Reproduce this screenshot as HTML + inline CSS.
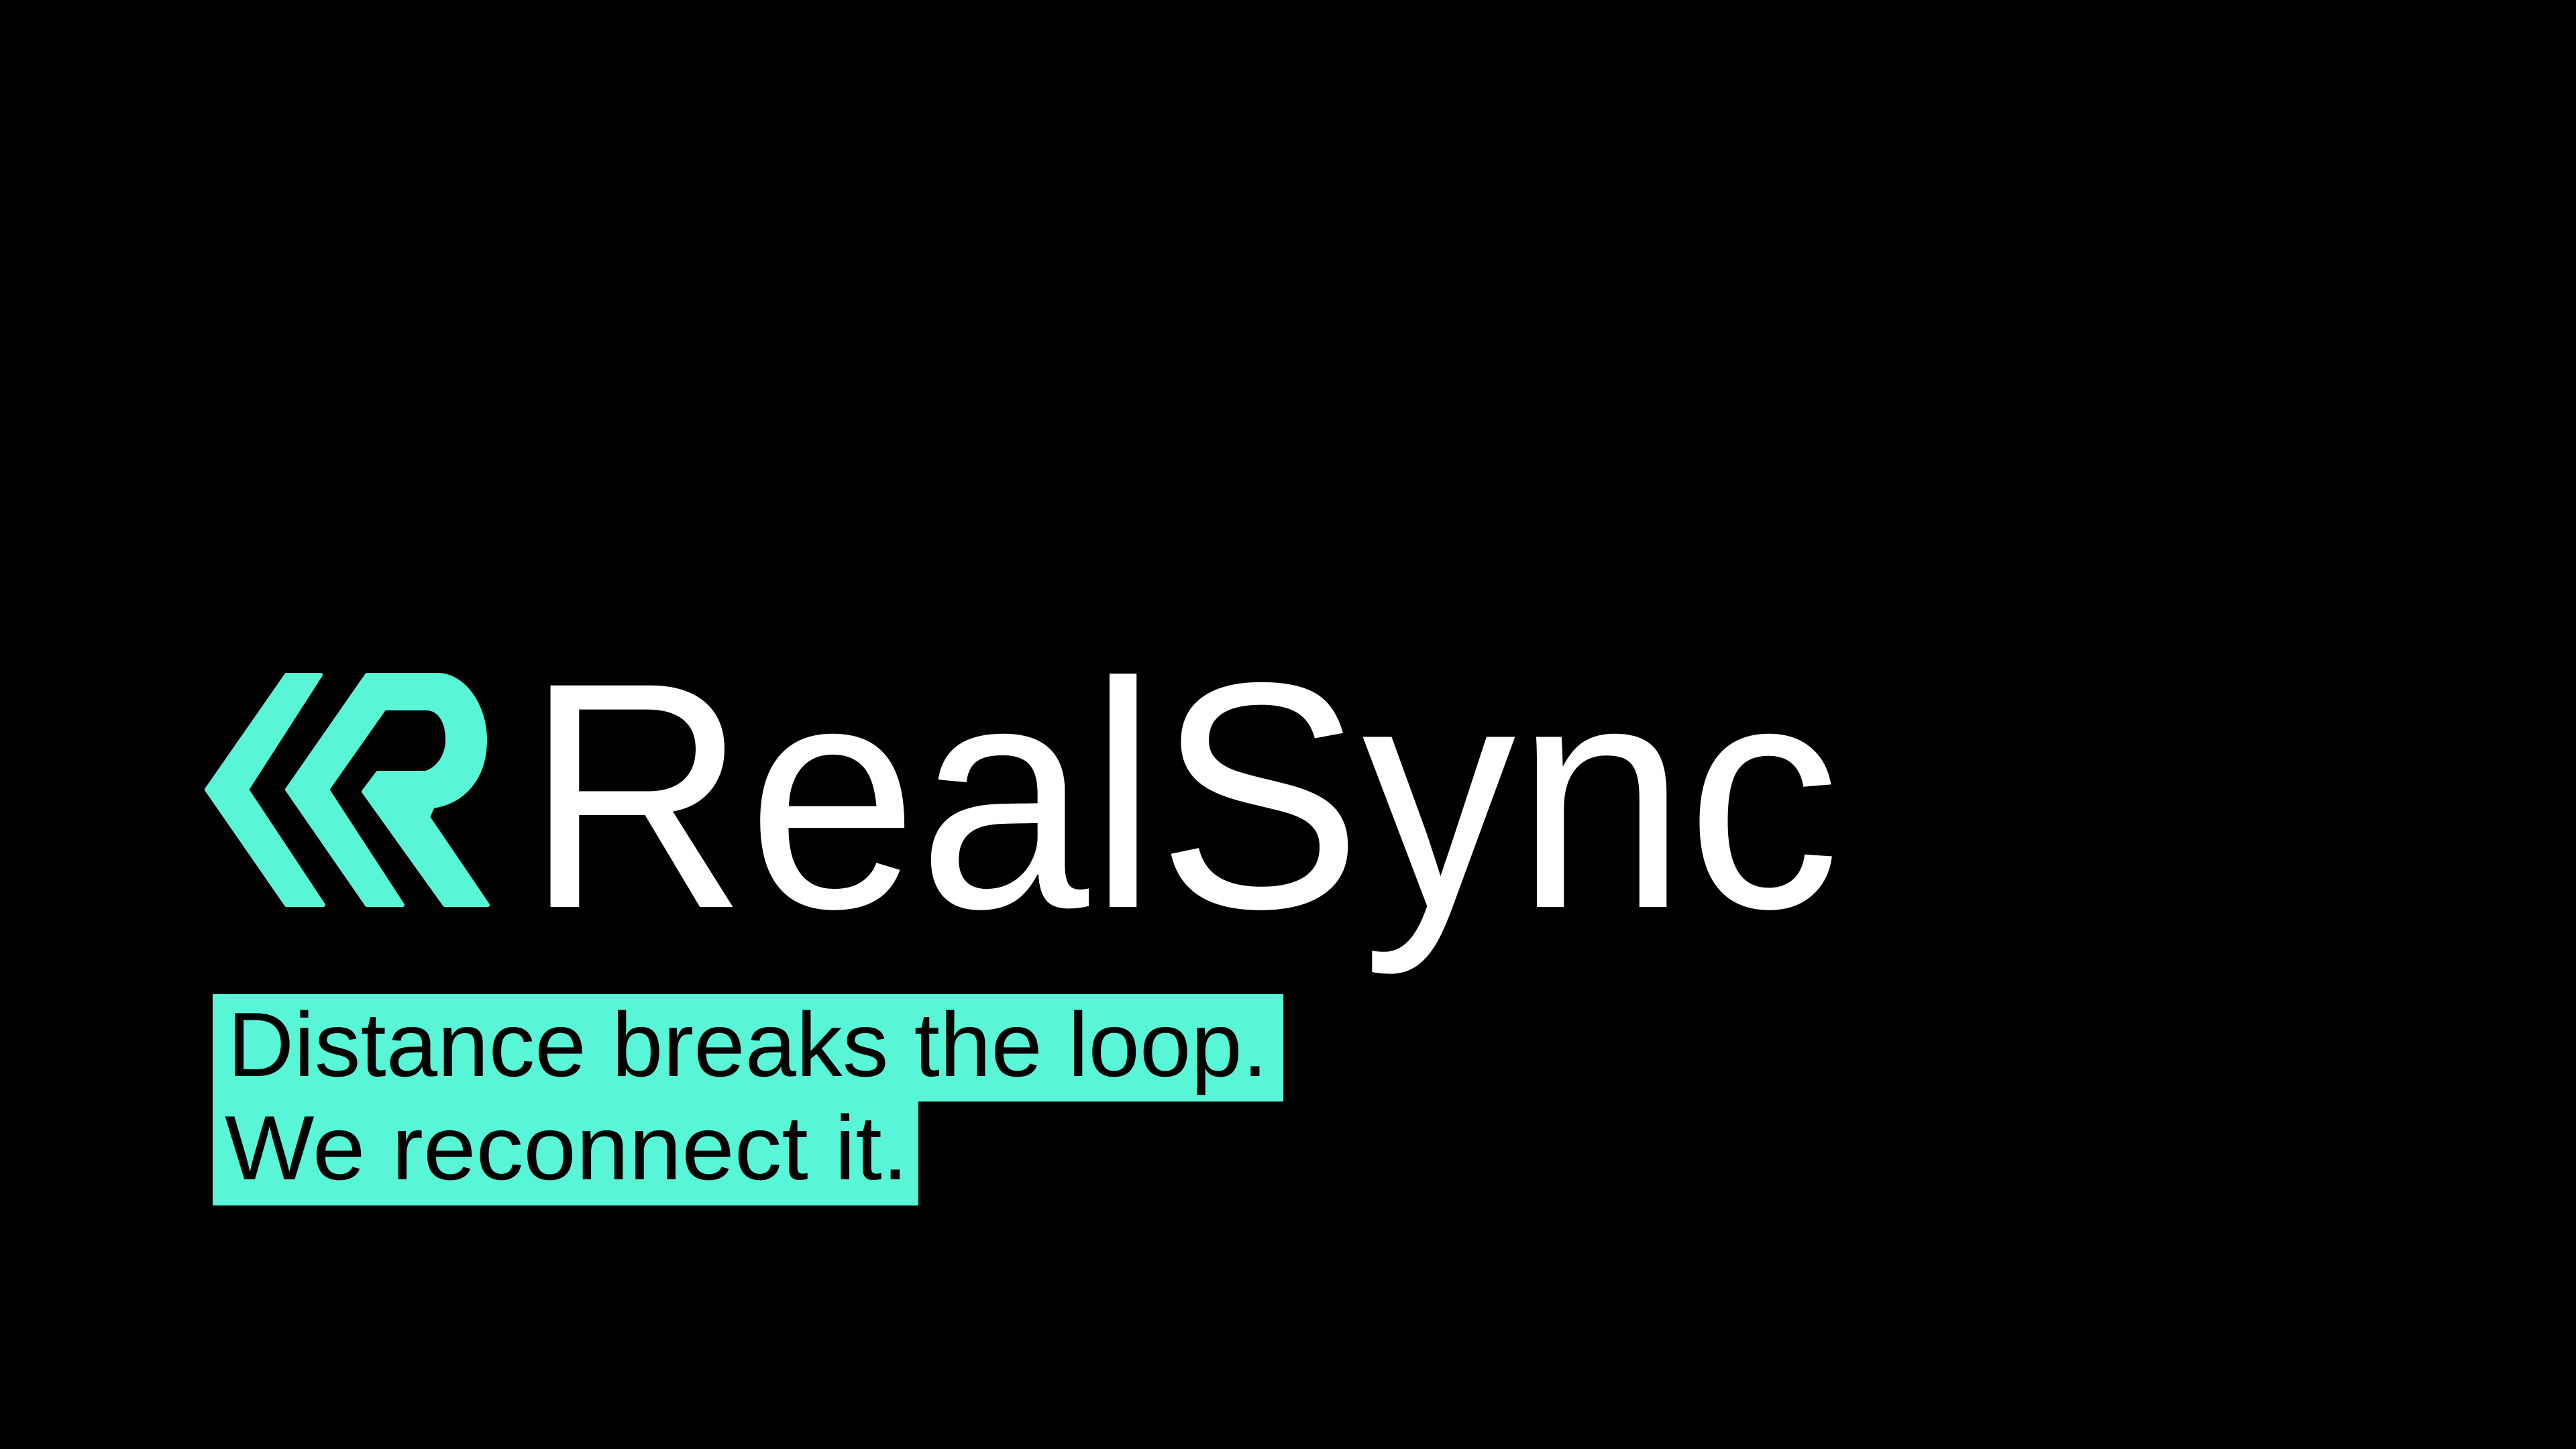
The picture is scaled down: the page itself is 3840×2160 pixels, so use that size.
<!DOCTYPE html>
<html><head><meta charset="utf-8"><style>
html,body{margin:0;padding:0;background:#000;width:3840px;height:2160px;overflow:hidden}
svg{display:block}
</style></head><body>
<svg width="3840" height="2160" viewBox="0 0 3840 2160" xmlns="http://www.w3.org/2000/svg">
<rect width="3840" height="2160" fill="#000"/>
<g fill="#59f5d7" stroke="#59f5d7" stroke-width="6" stroke-linejoin="round">
<path d="M427,1006 L478,1006 L368,1177 L482,1349 L427,1349 L308,1177 Z"/>
<path d="M547,1006 L652,1006 C690,1006 723,1050 723,1103 C723,1160 690,1196 645,1202 L638,1218 L727,1349 L663,1349 L542,1180 L563,1152 L635,1152 C655,1145 667,1125 667,1103 C667,1075 655,1056 635,1056 L573,1056 L488,1177 L600,1349 L547,1349 L428,1177 Z"/>
</g>
<text x="783" y="1352" font-family="Liberation Sans, sans-serif" font-size="480" fill="#fff" textLength="1960" lengthAdjust="spacingAndGlyphs">RealSync</text>
<rect x="317" y="1482" width="1596" height="160" fill="#59f5d7"/>
<rect x="317" y="1641" width="1052" height="156" fill="#59f5d7"/>
<text x="339" y="1604" font-family="Liberation Sans, sans-serif" font-size="136" fill="#000" textLength="1551" lengthAdjust="spacingAndGlyphs">Distance breaks the loop.</text>
<text x="335" y="1758" font-family="Liberation Sans, sans-serif" font-size="136" fill="#000" textLength="1019" lengthAdjust="spacingAndGlyphs">We reconnect it.</text>
</svg>
</body></html>
